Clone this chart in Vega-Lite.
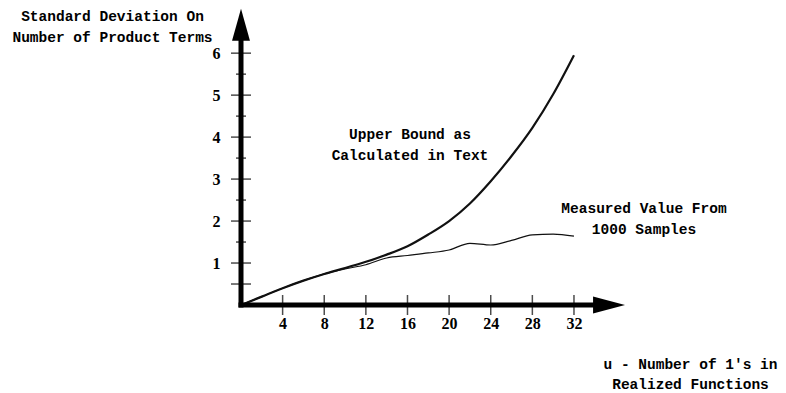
{
  "$schema": "https://vega.github.io/schema/vega-lite/v6.json",
  "width": 385,
  "height": 298,
  "autosize": {"type": "none"},
  "padding": {"left": 241, "top": 7, "right": 160, "bottom": 88},
  "background": "white",
  "config": {
    "view": {"stroke": null},
    "axis": {"grid": false, "domain": false, "ticks": false, "tickSize": 0, "labelColor": "#000", "titleColor": "#000", "labelFont": "Liberation Serif", "labelFontSize": 16, "labelFontWeight": "bold", "titleFont": "Liberation Mono", "titleFontSize": 14.5, "titleFontWeight": "bold"}
  },
  "datasets": {
    "curves": [
      {"series": "Upper bound", "u": 0, "v": 0},
      {"series": "Upper bound", "u": 2, "v": 0.2},
      {"series": "Upper bound", "u": 4, "v": 0.4},
      {"series": "Upper bound", "u": 6, "v": 0.58},
      {"series": "Upper bound", "u": 8, "v": 0.74},
      {"series": "Upper bound", "u": 10, "v": 0.88},
      {"series": "Upper bound", "u": 12, "v": 1.03},
      {"series": "Upper bound", "u": 14, "v": 1.2},
      {"series": "Upper bound", "u": 16, "v": 1.4},
      {"series": "Upper bound", "u": 18, "v": 1.68},
      {"series": "Upper bound", "u": 20, "v": 2.0},
      {"series": "Upper bound", "u": 22, "v": 2.42},
      {"series": "Upper bound", "u": 24, "v": 2.95},
      {"series": "Upper bound", "u": 26, "v": 3.55},
      {"series": "Upper bound", "u": 28, "v": 4.22},
      {"series": "Upper bound", "u": 30, "v": 5.02},
      {"series": "Upper bound", "u": 32, "v": 5.95},
      {"series": "Measured", "u": 0, "v": 0},
      {"series": "Measured", "u": 2, "v": 0.2},
      {"series": "Measured", "u": 4, "v": 0.4},
      {"series": "Measured", "u": 6, "v": 0.58},
      {"series": "Measured", "u": 8, "v": 0.74},
      {"series": "Measured", "u": 10, "v": 0.86},
      {"series": "Measured", "u": 12, "v": 0.96},
      {"series": "Measured", "u": 14, "v": 1.12},
      {"series": "Measured", "u": 16, "v": 1.18},
      {"series": "Measured", "u": 18, "v": 1.24},
      {"series": "Measured", "u": 20, "v": 1.31},
      {"series": "Measured", "u": 22, "v": 1.47},
      {"series": "Measured", "u": 24, "v": 1.43},
      {"series": "Measured", "u": 26, "v": 1.54},
      {"series": "Measured", "u": 28, "v": 1.67},
      {"series": "Measured", "u": 30, "v": 1.69},
      {"series": "Measured", "u": 32, "v": 1.64}
    ],
    "xticks": [{"u": 4}, {"u": 8}, {"u": 12}, {"u": 16}, {"u": 20}, {"u": 24}, {"u": 28}, {"u": 32}],
    "yticks": [
      {"v": 0.5, "kind": "major"}, {"v": 1, "kind": "major"}, {"v": 1.5, "kind": "minor"},
      {"v": 2, "kind": "major"}, {"v": 2.5, "kind": "minor"}, {"v": 3, "kind": "major"},
      {"v": 3.5, "kind": "minor"}, {"v": 4, "kind": "major"}, {"v": 4.5, "kind": "minor"},
      {"v": 5, "kind": "major"}, {"v": 5.5, "kind": "minor"}, {"v": 6, "kind": "major"}
    ],
    "shafts": [
      {"u": 0, "v": 0, "u2": 0, "v2": 6.4},
      {"u": 0, "v": 0, "u2": 34, "v2": 0}
    ],
    "arrows": [
      {"axis": "y", "u": 0, "v": 6.68},
      {"axis": "x", "u": 35.37, "v": 0}
    ],
    "notes": [
      {"note": "Upper Bound as\nCalculated in Text", "u": 16.24, "v": 3.955},
      {"note": "Measured Value From\n1000 Samples", "u": 38.73, "v": 2.19}
    ]
  },
  "layer": [
    {
      "data": {"name": "curves"},
      "mark": {"type": "line", "color": "#111", "interpolate": "monotone"},
      "encoding": {
        "x": {
          "field": "u", "type": "quantitative",
          "scale": {"domain": [0, 37], "nice": false, "zero": true},
          "axis": {
            "values": [4, 8, 12, 16, 20, 24, 28, 32],
            "labelPadding": 18, "labelBaseline": "middle", "labelFlush": false,
            "title": ["u - Number of 1's in", "Realized Functions"],
            "titleX": 449, "titleY": 63, "titleAlign": "center", "titleAnchor": null,
            "titleBaseline": "alphabetic", "titleLineHeight": 20
          }
        },
        "y": {
          "field": "v", "type": "quantitative",
          "scale": {"domain": [0, 7.1], "nice": false, "zero": true},
          "axis": {
            "values": [1, 2, 3, 4, 5, 6],
            "labelPadding": 21, "labelFlush": false,
            "title": ["Standard Deviation On", "Number of Product Terms"],
            "titleAngle": 0, "titleX": -129, "titleY": 13, "titleAlign": "center",
            "titleBaseline": "alphabetic", "titleLineHeight": 21
          }
        },
        "detail": {"field": "series", "type": "nominal"},
        "strokeWidth": {"field": "series", "type": "nominal", "scale": {"domain": ["Upper bound", "Measured"], "range": [2.2, 1.2]}, "legend": null}
      }
    },
    {
      "data": {"name": "shafts"},
      "mark": {"type": "rule", "color": "#000", "strokeWidth": 5, "strokeCap": "square"},
      "encoding": {
        "x": {"field": "u", "type": "quantitative"},
        "y": {"field": "v", "type": "quantitative"},
        "x2": {"field": "u2"},
        "y2": {"field": "v2"}
      }
    },
    {
      "data": {"name": "xticks"},
      "mark": {"type": "tick", "orient": "vertical", "color": "#000", "size": 20, "thickness": 1.5},
      "encoding": {
        "x": {"field": "u", "type": "quantitative"},
        "y": {"datum": 0, "type": "quantitative"}
      }
    },
    {
      "data": {"name": "yticks"},
      "mark": {"type": "tick", "orient": "horizontal", "color": "#000", "thickness": 1.5},
      "encoding": {
        "y": {"field": "v", "type": "quantitative"},
        "x": {"datum": 0, "type": "quantitative"},
        "size": {"field": "kind", "type": "nominal", "scale": {"domain": ["major", "minor"], "range": [20, 10]}, "legend": null}
      }
    },
    {
      "data": {"name": "arrows"},
      "mark": {"type": "point", "filled": true, "color": "#000", "opacity": 1, "size": 1024, "strokeWidth": 0},
      "encoding": {
        "x": {"field": "u", "type": "quantitative"},
        "y": {"field": "v", "type": "quantitative"},
        "shape": {"field": "axis", "type": "nominal", "scale": {"domain": ["x", "y"], "range": ["M1,0L-1,-0.53L-1,0.53Z", "M0,-1L0.56,1L-0.56,1Z"]}, "legend": null}
      }
    },
    {
      "data": {"name": "notes"},
      "mark": {"type": "text", "lineBreak": "\n", "align": "center", "baseline": "alphabetic", "lineHeight": 21, "font": "Liberation Mono", "fontSize": 14.5, "fontWeight": "bold", "color": "#000"},
      "encoding": {
        "x": {"field": "u", "type": "quantitative"},
        "y": {"field": "v", "type": "quantitative"},
        "text": {"field": "note"}
      }
    }
  ]
}
